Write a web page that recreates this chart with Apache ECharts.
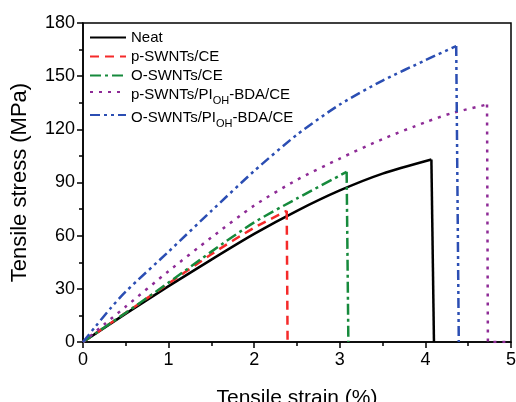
<!DOCTYPE html>
<html>
<head>
<meta charset="utf-8">
<script src="https://cdn.jsdelivr.net/npm/echarts@6/dist/echarts.min.js"></script>
<style>
html,body{margin:0;padding:0;background:#fff;}
#chart{width:516px;height:402px;}
</style>
</head>
<body>
<div id="chart"></div>
<script>
// Series names
var seriesNames = ['Neat', 'p-SWNTs/CE', 'O-SWNTs/CE', 'p-SWNTs/PIOH-BDA/CE', 'O-SWNTs/PIOH-BDA/CE'];

// Neat
var neatStrain = [0, 0.5, 1, 1.5, 2, 2.5, 3, 3.5, 4.07, 4.1];
var neatStress = [0, 16, 31.5, 46.5, 61, 74, 85.5, 95, 103, 0];
// p-SWNTs/CE
var pCeStrain = [0, 0.5, 1, 1.5, 2, 2.38, 2.39];
var pCeStress = [0, 16.5, 33, 49.5, 64.5, 74, 0];
// O-SWNTs/CE
var oCeStrain = [0, 0.5, 1, 1.5, 2, 2.5, 3.08, 3.1];
var oCeStress = [0, 16.5, 33.5, 51, 67.5, 81, 96, 0];
// p-SWNTs/PIOH-BDA/CE
var pPiStrain = [0, 0.25, 0.5, 1, 1.5, 2, 2.5, 3, 3.5, 4, 4.3, 4.72, 4.73, 5];
var pPiStress = [0, 10, 20, 40, 59, 77, 91.5, 103.5, 114.5, 124, 129, 134, 0, 0];
// O-SWNTs/PIOH-BDA/CE
var oPiStrain = [0, 0.15, 0.33, 0.5, 1, 1.5, 2, 2.5, 3, 3.5, 4, 4.36, 4.39];
var oPiStress = [0, 9, 19.5, 28.5, 51, 74, 96.5, 117, 134, 147.5, 159, 167, 0];

// Index of the fracture point (peak) in each series
var peakIndex = [8, 5, 6, 11, 11];

// Axis ticks
var xTicks = [0, 1, 2, 3, 4, 5];
var yTicks = [0, 30, 60, 90, 120, 150, 180];

function zip(a, b) { return a.map(function (v, i) { return [v, b[i]]; }); }

var FONT = 'Liberation Sans, Arial, Helvetica, sans-serif';

var chart = echarts.init(document.getElementById('chart'), null, {renderer: 'canvas'});

function mk(name, strain, stress, peak, color, type) {
  var pts = zip(strain, stress);
  var base = {
    name: name,
    type: 'line',
    symbol: 'none',
    lineStyle: {color: color, width: 2.5, type: type},
    itemStyle: {color: color},
    z: 3
  };
  var rise = Object.assign({}, base, {data: pts.slice(0, peak + 1), smooth: 0.25});
  var drop = Object.assign({}, base, {data: pts.slice(peak), smooth: false});
  return [rise, drop];
}

var colors = ['#000000', '#f52a2a', '#168a3c', '#8e2b96', '#2b4eb3'];
var types = ['solid', [9, 6], [11, 4, 3, 4], [3, 6], [10, 4, 3, 4, 3, 4]];
var strains = [neatStrain, pCeStrain, oCeStrain, pPiStrain, oPiStrain];
var stresses = [neatStress, pCeStress, oCeStress, pPiStress, oPiStress];

var series = [];
for (var i = 0; i < seriesNames.length; i++) {
  series = series.concat(mk(seriesNames[i], strains[i], stresses[i], peakIndex[i], colors[i], types[i]));
}

var option = {
  animation: false,
  backgroundColor: '#fff',
  grid: {left: 83, right: 5, top: 23, bottom: 60, containLabel: false, outerBoundsMode: 'none',
    show: true, borderColor: '#000', borderWidth: 1.5, backgroundColor: 'transparent'},
  legend: {
    orient: 'vertical',
    left: 84,
    top: 25,
    itemWidth: 36,
    itemHeight: 12,
    itemGap: 4,
    itemStyle: {opacity: 0, borderWidth: 0},
    textStyle: {
      fontFamily: FONT, fontSize: 15, color: '#000',
      rich: {
        n: {fontFamily: FONT, fontSize: 15, color: '#000', verticalAlign: 'bottom', lineHeight: 20},
        s: {fontFamily: FONT, fontSize: 11, color: '#000', verticalAlign: 'bottom', lineHeight: 14, padding: [0, 0, -4, 0]}
      }
    },
    formatter: function (name) {
      if (name.indexOf('PIOH') >= 0) {
        var parts = name.split('PIOH');
        return '{n|' + parts[0] + 'PI}{s|OH}{n|' + parts[1] + '}';
      }
      return name;
    },
    data: seriesNames
  },
  xAxis: {
    type: 'value',
    min: 0, max: 5, interval: 1,
    name: 'Tensile strain (%)',
    nameLocation: 'middle',
    nameGap: 46,
    nameTextStyle: {fontFamily: FONT, fontSize: 21, color: '#000'},
    axisLine: {show: true, onZero: false, lineStyle: {color: '#000', width: 1.5}},
    axisTick: {show: true, inside: false, length: 6, lineStyle: {color: '#000', width: 1.5}},
    minorTick: {show: true, splitNumber: 2, length: 4, lineStyle: {color: '#000', width: 1.5}},
    axisLabel: {fontFamily: FONT, fontSize: 18, color: '#000', margin: 9,
      formatter: function (v) { return xTicks.indexOf(v) >= 0 ? String(v) : ''; }},
    splitLine: {show: false},
    minorSplitLine: {show: false}
  },
  yAxis: {
    type: 'value',
    min: 0, max: 180, interval: 30,
    name: 'Tensile stress (MPa)',
    nameLocation: 'middle',
    nameGap: 52,
    nameTextStyle: {fontFamily: FONT, fontSize: 22, color: '#000'},
    axisLine: {show: true, onZero: false, lineStyle: {color: '#000', width: 1.5}},
    axisTick: {show: true, inside: false, length: 6, lineStyle: {color: '#000', width: 1.5}},
    minorTick: {show: true, splitNumber: 2, length: 4, lineStyle: {color: '#000', width: 1.5}},
    axisLabel: {fontFamily: FONT, fontSize: 18, color: '#000', margin: 8,
      formatter: function (v) { return yTicks.indexOf(v) >= 0 ? String(v) : ''; }},
    splitLine: {show: false},
    minorSplitLine: {show: false}
  },
  series: series
};
chart.setOption(option);
</script>
</body>
</html>
